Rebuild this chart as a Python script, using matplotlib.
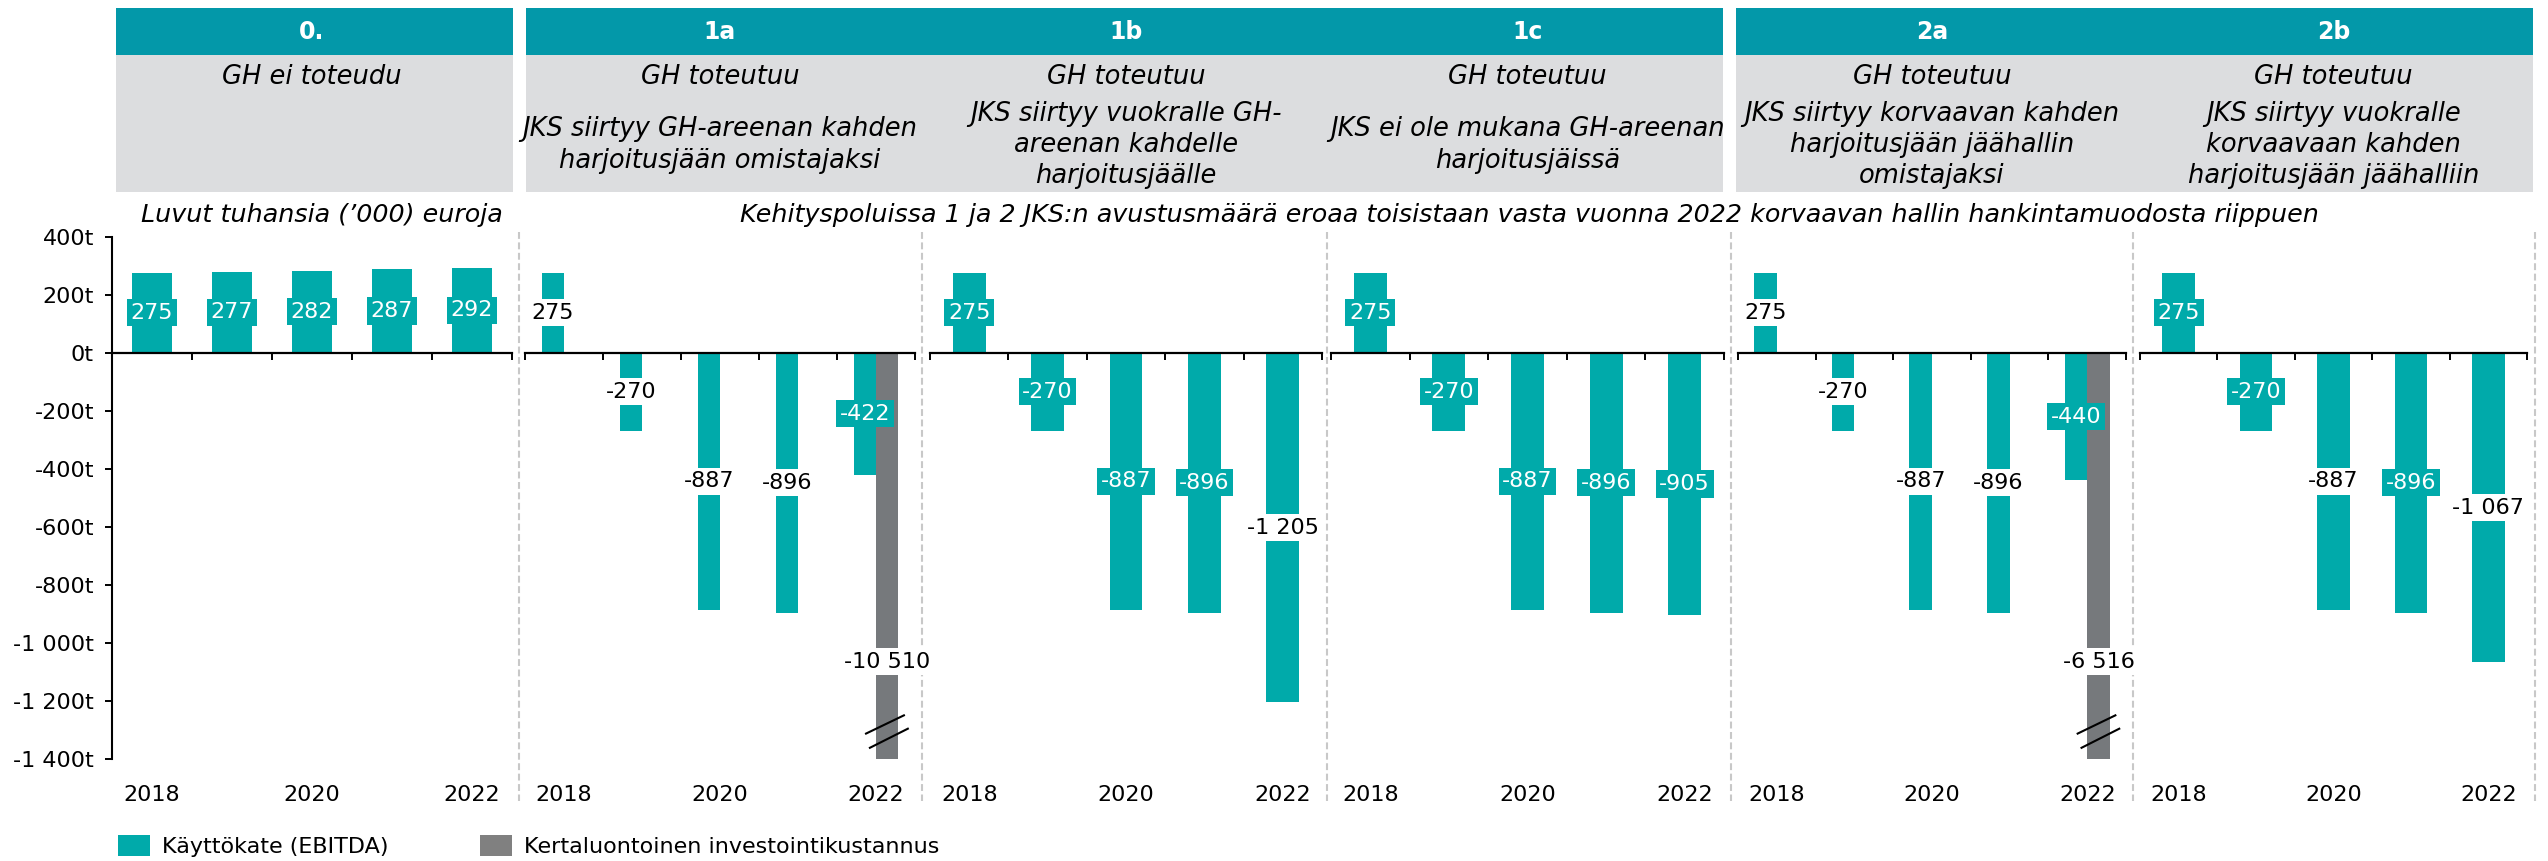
import matplotlib
matplotlib.use("Agg")
import matplotlib.pyplot as plt
from matplotlib.patches import Rectangle, Patch

plt.rcParams['font.family'] = ['DejaVu Sans']

# ---------------- data ----------------
years = [2018, 2019, 2020, 2021, 2022]
year_tick_labels = ['2018', '2020', '2022']
codes = ['0.', '1a', '1b', '1c', '2a', '2b']
head_line1 = ['GH ei toteudu', 'GH toteutuu', 'GH toteutuu', 'GH toteutuu',
              'GH toteutuu', 'GH toteutuu']
head_line2 = ['',
              'JKS siirtyy GH-areenan kahden\nharjoitusjään omistajaksi',
              'JKS siirtyy vuokralle GH-\nareenan kahdelle\nharjoitusjäälle',
              'JKS ei ole mukana GH-areenan\nharjoitusjäissä',
              'JKS siirtyy korvaavan kahden\nharjoitusjään jäähallin\nomistajaksi',
              'JKS siirtyy vuokralle\nkorvaavaan kahden\nharjoitusjään jäähalliin']

ebitda_0 = [275, 277, 282, 287, 292]
ebitda_1a = [275, -270, -887, -896, -422]
ebitda_1b = [275, -270, -887, -896, -1205]
ebitda_1c = [275, -270, -887, -896, -905]
ebitda_2a = [275, -270, -887, -896, -440]
ebitda_2b = [275, -270, -887, -896, -1067]
invest_1a = [0, 0, 0, 0, -10510]
invest_2a = [0, 0, 0, 0, -6516]

y_ticks = [-1400, -1200, -1000, -800, -600, -400, -200, 0, 200, 400]
series_names = ['Käyttökate (EBITDA)', 'Kertaluontoinen investointikustannus']
subtitle_left = 'Luvut tuhansia (’000) euroja'
subtitle_right = ('Kehityspoluissa 1 ja 2 JKS:n avustusmäärä eroaa toisistaan vasta '
                  'vuonna 2022 korvaavan hallin hankintamuodosta riippuen')

ebitda = [ebitda_0, ebitda_1a, ebitda_1b, ebitda_1c, ebitda_2a, ebitda_2b]
invest = [None, invest_1a, None, None, invest_2a, None]

# ---------------- style ----------------
TEAL = '#00AAAA'
HEAD_TEAL = '#0398A9'
HEAD_GRAY = '#DCDDDF'
GRAY = '#76797C'
LEG_GRAY = '#808080'
SEP = '#C8C8C8'
FS = 16

# which labels sit on a teal box (white text) instead of a white box
boxed = [[1, 1, 1, 1, 1], [0, 0, 0, 0, 1], [1, 1, 1, 1, 0],
         [1, 1, 1, 1, 1], [0, 0, 0, 0, 1], [1, 1, 0, 1, 0]]
bar_w = [0.5, 0.28, 0.42, 0.42, 0.29, 0.42]

W, H, DPI = 2548, 861, 100
fig = plt.figure(figsize=(W / DPI, H / DPI), dpi=DPI)

panel_x0 = [112, 525, 930, 1331, 1738, 2140]
panel_x1 = [512, 915, 1322, 1724, 2126, 2527]
ax_top, ax_bot = 236.6, 759.0
YMIN, YMAX = -1400, 400
BREAK_LABEL_Y = -1065


def fmt(v):
    return f"{v:,}".replace(',', ' ')


for p in range(6):
    x0, x1 = panel_x0[p], panel_x1[p]
    ax = fig.add_axes([x0 / W, 1 - ax_bot / H, (x1 - x0) / W, (ax_bot - ax_top) / H])
    ax.set_xlim(-0.5, 4.5)
    ax.set_ylim(YMIN, YMAX)
    ax.patch.set_visible(False)
    xs = list(range(len(years)))
    w = bar_w[p]
    if invest[p] is not None:
        xt = [x - w / 2 for x in xs]
        xg = [x + w / 2 for x in xs]
    else:
        xt = xs
        xg = None
    ax.bar(xt, ebitda[p], w, color=TEAL, zorder=1)
    for i, v in enumerate(ebitda[p]):
        hl = boxed[p][i]
        ax.text(xt[i], v / 2, fmt(v), ha='center', va='center', fontsize=FS,
                color='white' if hl else 'black', zorder=4,
                bbox=dict(boxstyle='square,pad=0.16', fc=TEAL if hl else 'white', ec='none'))
    if invest[p] is not None:
        ax.bar(xg, invest[p], w, color=GRAY, zorder=1)
        for i, v in enumerate(invest[p]):
            if v == 0:
                continue
            ly = v / 2 if v / 2 > YMIN else BREAK_LABEL_Y
            ax.text(xg[i], ly, fmt(v), ha='center', va='center', fontsize=FS,
                    color='black', zorder=4,
                    bbox=dict(boxstyle='square,pad=0.16', fc='white', ec='none'))
            if v < YMIN:
                xc = xg[i]
                ax.plot([xc - 0.28, xc + 0.23], [-1314, -1248], color='black',
                        lw=1.5, zorder=5, clip_on=False, solid_capstyle='butt')
                ax.plot([xc - 0.23, xc + 0.28], [-1363, -1294], color='black',
                        lw=1.5, zorder=5, clip_on=False, solid_capstyle='butt')

    for s in ['top', 'right']:
        ax.spines[s].set_visible(False)
    ax.spines['bottom'].set_position(('data', 0))
    ax.spines['bottom'].set_linewidth(1.6)
    ax.spines['bottom'].set_zorder(3)
    ax.set_xticks([x - 0.5 for x in range(len(years) + 1)])
    ax.tick_params(axis='x', direction='out', length=5, width=1.4,
                   labelbottom=False)
    if p == 0:
        ax.spines['left'].set_linewidth(1.5)
        ax.set_yticks(y_ticks, [fmt(v) + 't' for v in y_ticks])
        ax.tick_params(axis='y', direction='out', length=5, width=1.4,
                       labelsize=FS, pad=8)
    else:
        ax.spines['left'].set_visible(False)
        ax.set_yticks([])
    sec = ax.secondary_xaxis('bottom')
    sec.set_xticks([0, 2, 4], year_tick_labels)
    sec.tick_params(length=0, pad=19, labelsize=FS)
    sec.spines['bottom'].set_visible(False)

# ---------------- overlay: header, separators, subtitles ----------------
ov = fig.add_axes([0, 0, 1, 1], zorder=-1)
ov.set_xlim(0, W)
ov.set_ylim(H, 0)
ov.axis('off')

head_spans = [(116, 513), (526, 1723), (1736, 2533)]
for a, b in head_spans:
    ov.add_patch(Rectangle((a, 8.3), b - a, 55 - 8.3, fc=HEAD_TEAL, ec='none'))
    ov.add_patch(Rectangle((a, 55), b - a, 192 - 55, fc=HEAD_GRAY, ec='none'))

for p in range(6):
    cx = (panel_x0[p] + panel_x1[p]) / 2
    ov.text(cx, 32, codes[p], ha='center', va='center', fontsize=17,
            fontweight='bold', color='white')
    ov.text(cx, 77, head_line1[p], ha='center', va='center', fontsize=18.5,
            style='italic', color='black')
    if head_line2[p]:
        ov.text(cx, 145, head_line2[p], ha='center', va='center', fontsize=18.5,
                style='italic', color='black', linespacing=1.25)

seps = [518.5, 922, 1326.5, 1731, 2133, 2535]
for sx in seps:
    ov.plot([sx, sx], [232, 801], color=SEP, lw=1.5, ls=(0, (3.3, 1.7)))

ov.text(322, 215, subtitle_left, ha='center', va='center', fontsize=18.3,
        style='italic')
ov.text(1529, 215, subtitle_right, ha='center', va='center', fontsize=18.3,
        style='italic')

handles = [Patch(fc=TEAL, ec='none'), Patch(fc=LEG_GRAY, ec='none')]
fig.legend(handles, series_names, ncol=2, loc='center left',
           bbox_to_anchor=(118 / W, 1 - 846 / H), frameon=False, fontsize=FS,
           handlelength=1.44, handleheight=1.08, handletextpad=0.54,
           columnspacing=4.1, borderpad=0, borderaxespad=0)

fig.savefig('out.png', dpi=DPI)
